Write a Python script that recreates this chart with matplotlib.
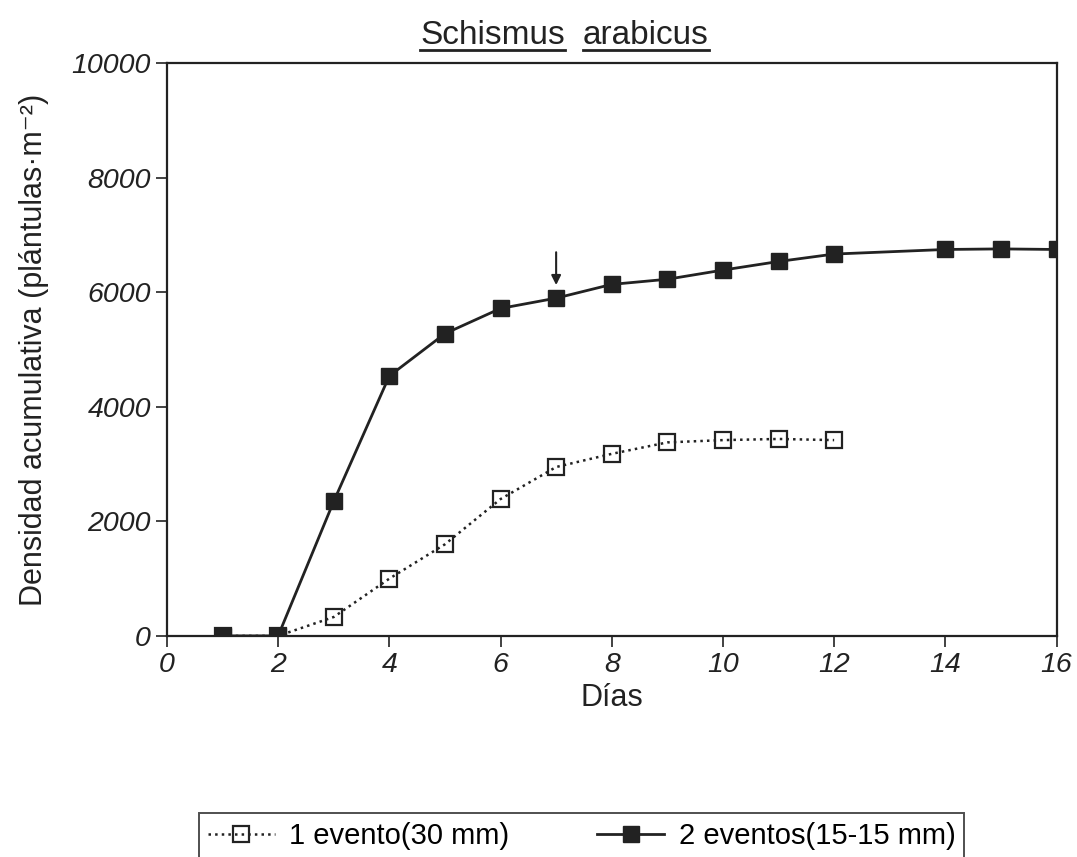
import matplotlib
matplotlib.use('Agg')
import matplotlib.pyplot as plt
from matplotlib.lines import Line2D

plt.rcParams['font.family'] = ['Liberation Sans', 'DejaVu Sans']

# Datos
dias_1 = [1, 2, 3, 4, 5, 6, 7, 8, 9, 10, 11, 12]
evento_1 = [0, 0, 330, 1000, 1600, 2390, 2950, 3180, 3380, 3420, 3440, 3420]

dias_2 = [1, 2, 3, 4, 5, 6, 7, 8, 9, 10, 11, 12, 14, 15, 16]
eventos_2 = [0, 0, 2350, 4540, 5280, 5720, 5900, 6140, 6230, 6390, 6540, 6670, 6750, 6760, 6750]

xticks = [0, 2, 4, 6, 8, 10, 12, 14, 16]
yticks = [0, 2000, 4000, 6000, 8000, 10000]

fig = plt.figure(figsize=(10.77, 8.57), dpi=100)
ax = fig.add_axes([0.155, 0.258, 0.826, 0.668])

ax.plot(dias_1, evento_1, linestyle=':', color='#222222', lw=1.8,
        marker='s', markersize=11, mfc='none', mec='#222222', mew=1.6,
        label='1 evento(30 mm)', zorder=2)
ax.plot(dias_2, eventos_2, linestyle='-', color='#222222', lw=2,
        marker='s', markersize=12, mfc='#222222', mec='#222222',
        label='2 eventos(15-15 mm)', zorder=3)

# flecha sobre el dia 7
ax.annotate('', xy=(7, 6080), xytext=(7, 6750),
            arrowprops=dict(arrowstyle='-|>', color='#222222', lw=1.5, mutation_scale=14))

ax.set_xlim(0, 16)
ax.set_ylim(0, 10000)
ax.set_xticks(xticks)
ax.set_yticks(yticks)
ax.tick_params(direction='out', length=8, width=1.2, labelsize=20.5, colors='#222222')
for lab in ax.get_xticklabels() + ax.get_yticklabels():
    lab.set_fontstyle('italic')
for s in ax.spines.values():
    s.set_linewidth(1.6)
    s.set_color('#222222')

ax.set_xlabel('Días', fontsize=22, color='#222222', labelpad=4)
ax.set_ylabel('Densidad acumulativa (plántulas·m⁻²)', fontsize=22, color='#222222', labelpad=16)

# titulo subrayado
t1 = fig.text(565 / 1077, 1 - 44 / 857, 'Schismus', fontsize=24, ha='right', va='baseline', color='#222222')
t2 = fig.text(583 / 1077, 1 - 44 / 857, 'arabicus', fontsize=24, ha='left', va='baseline', color='#222222')
fig.canvas.draw()
inv = fig.transFigure.inverted()
for t in (t1, t2):
    bb = t.get_window_extent().transformed(inv)
    yline = 1 - 50 / 857
    fig.add_artist(Line2D([bb.x0, bb.x1], [yline, yline], transform=fig.transFigure,
                          color='#222222', lw=2))

leg = fig.legend(loc='upper center', bbox_to_anchor=(0.54, 1 - 813 / 857), ncol=2,
                 fontsize=21, frameon=True, fancybox=False, edgecolor='#222222',
                 handlelength=2.3, columnspacing=3.0, borderpad=0.3, borderaxespad=0,
                 handletextpad=0.5)
leg.get_frame().set_linewidth(1.4)

fig.savefig('out.png', dpi=100)
